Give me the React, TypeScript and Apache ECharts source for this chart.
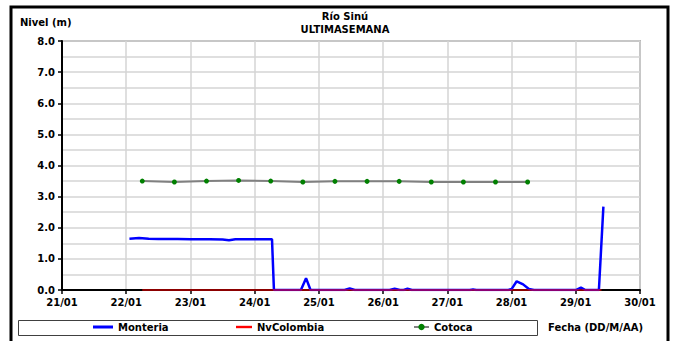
import React, { useEffect, useRef } from "react";
import * as echarts from "echarts";

const dayTicks = [21, 22, 23, 24, 25, 26, 27, 28, 29, 30];
const yTicks = [0, 1, 2, 3, 4, 5, 6, 7, 8];

const monteriaX = [22.05, 22.2, 22.35, 22.5, 22.8, 23.0, 23.3, 23.5, 23.6, 23.7, 24.0, 24.27, 24.3, 24.72, 24.8, 24.87, 25.4, 25.48, 25.56, 26.1, 26.18, 26.26, 26.32, 26.38, 26.45, 27.35, 27.4, 27.45, 27.95, 28.0, 28.08, 28.18, 28.27, 28.35, 29.0, 29.08, 29.15, 29.36, 29.43];
const monteriaY = [1.65, 1.67, 1.65, 1.64, 1.64, 1.63, 1.63, 1.62, 1.6, 1.63, 1.63, 1.63, 0, 0, 0.38, 0, 0, 0.05, 0, 0, 0.04, 0, 0, 0.04, 0, 0, 0.02, 0, 0, 0.03, 0.28, 0.18, 0.03, 0, 0, 0.08, 0, 0, 2.68];

const nvColombiaX = [22.25, 29.4];
const nvColombiaY = [0, 0];

const cotocaX = [22.25, 22.75, 23.25, 23.75, 24.25, 24.75, 25.25, 25.75, 26.25, 26.75, 27.25, 27.75, 28.25];
const cotocaY = [3.5, 3.47, 3.5, 3.52, 3.5, 3.47, 3.49, 3.49, 3.49, 3.47, 3.47, 3.47, 3.47];

const FONT = "DejaVu Sans, Verdana, sans-serif";
const LINE_ICON = "path://M0,0 L20,0 L20,3 L0,3 Z";

export default function App() {
  const ref = useRef<HTMLDivElement>(null);
  useEffect(() => {
    if (!ref.current) return;
    const chart = echarts.init(ref.current, undefined, { renderer: "svg" });
    const zip = (xs: number[], ys: number[]) => xs.map((x, i) => [x, ys[i]]);
    const legendText = { fontFamily: FONT, fontWeight: "bold", fontSize: 10, color: "#000" };
    chart.setOption({
      animation: false,
      backgroundColor: "#fff",
      title: {
        text: "Río Sinú\nULTIMASEMANA",
        left: 340,
        top: 5,
        textAlign: "center",
        textStyle: { fontFamily: FONT, fontWeight: "bold", fontSize: 10, lineHeight: 13, color: "#000" },
      },
      grid: {
        left: 62, top: 41, width: 578, height: 249,
        show: true, borderColor: "#808080", borderWidth: 1.5, backgroundColor: "transparent",
      },
      xAxis: {
        type: "value", min: dayTicks[0], max: dayTicks[dayTicks.length - 1], interval: 1,
        axisLine: { show: true, onZero: false, lineStyle: { color: "#000", width: 2 } },
        axisTick: { show: true, length: 4, lineStyle: { color: "#000", width: 1.5 } },
        axisLabel: {
          fontFamily: FONT, fontWeight: "bold", fontSize: 10, color: "#000", margin: 7,
          formatter: (v: number) => String(v).padStart(2, "0") + "/01",
        },
        splitLine: { show: true, lineStyle: { color: "#d4d4d4", width: 1.5 } },
      },
      yAxis: {
        type: "value", min: yTicks[0], max: yTicks[yTicks.length - 1], interval: 1,
        axisLine: { show: true, lineStyle: { color: "#000", width: 2 } },
        axisTick: { show: true, length: 4, lineStyle: { color: "#000", width: 1.5 } },
        axisLabel: {
          fontFamily: FONT, fontWeight: "bold", fontSize: 10, color: "#000", margin: 7,
          formatter: (v: number) => v.toFixed(1),
        },
        splitLine: { show: true, lineStyle: { color: "#d4d4d4", width: 1.5 } },
        minorTick: { show: false, splitNumber: 2 },
        minorSplitLine: { show: true, lineStyle: { color: "#d4d4d4", width: 1.5 } },
      },
      legend: [
        { left: 93, top: 322, padding: 0, itemWidth: 20, itemHeight: 3, textStyle: legendText, data: [{ name: "Monteria", icon: LINE_ICON, itemStyle: { color: "#0000ff" } }] },
        { left: 236, top: 322, padding: 0, itemWidth: 16, itemHeight: 3, textStyle: legendText, data: [{ name: "NvColombia", icon: LINE_ICON, itemStyle: { color: "#ff0000" } }] },
        { left: 413, top: 322, padding: 0, itemWidth: 15, itemHeight: 8, textStyle: legendText, data: [{ name: "Cotoca" }] },
      ],
      graphic: [
        { type: "rect", shape: { x: 11, y: 7, width: 657, height: 340 }, style: { fill: "none", stroke: "#000", lineWidth: 3 }, silent: true },
        { type: "rect", shape: { x: 18.5, y: 320.5, width: 519, height: 15 }, style: { fill: "none", stroke: "#404040", lineWidth: 1 }, silent: true },
        { type: "text", left: 20, top: 17, style: { text: "Nivel (m)", font: `bold 10px ${FONT}`, fill: "#000" } },
        { type: "text", left: 548, top: 322, style: { text: "Fecha (DD/M/AA)", font: `bold 10px ${FONT}`, fill: "#000" } },
      ],
      series: [
        {
          name: "Monteria", type: "line", symbol: "none", data: zip(monteriaX, monteriaY),
          lineStyle: { color: "#0000ff", width: 2.5 }, itemStyle: { color: "#0000ff" }, z: 3,
        },
        {
          name: "NvColombia", type: "line", symbol: "none", data: zip(nvColombiaX, nvColombiaY),
          lineStyle: { color: "#ff0000", width: 2, opacity: 0.55 }, itemStyle: { color: "#ff0000" }, z: 4,
        },
        {
          name: "Cotoca", type: "line", symbol: "circle", symbolSize: 5, data: zip(cotocaX, cotocaY),
          lineStyle: { color: "#808080", width: 2 }, itemStyle: { color: "#008000" }, z: 5,
        },
      ],
    });
    return () => chart.dispose();
  }, []);
  return <div ref={ref} style={{ width: 675, height: 341, position: "absolute", left: 0, top: 0 }} />;
}
